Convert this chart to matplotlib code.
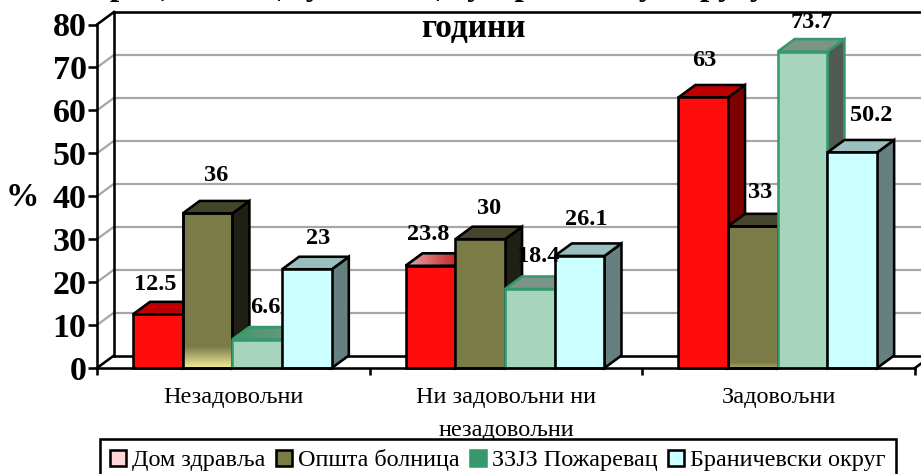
import matplotlib
matplotlib.use("Agg")
import matplotlib.pyplot as plt
import numpy as np
from matplotlib.patches import Patch, Polygon, Rectangle
from matplotlib.transforms import IdentityTransform

categories = ["Незадовољни", "Ни задовољни ни\nнезадовољни", "Задовољни"]
series_names = ["Дом здравља", "Општа болница", "ЗЗЈЗ Пожаревац", "Браничевски округ"]

dom_zdravlja = [12.5, 23.8, 63]
opsta_bolnica = [36, 30, 33]
zzjz = [6.6, 18.4, 73.7]
okrug = [23, 26.1, 50.2]

yticks = [0, 10, 20, 30, 40, 50, 60, 70, 80]

# first title line is cut off in the source image, wording is a guess from the descenders
title_top = "Процена лица у болници у Браничеву округу"
title_bottom = "години"

# label offset from top centre of each bar, in pixels
label_dx = [[-3, 9, 8, 11], [-2, 9, 8, 7], [1, 7, 9, 19]]
label_dy = [[30, 38, 32, 31], [31, 31, 32, 36], [37, 34, 29, 37]]
masked_labels = ["6.6", "18.4"]

# front, side, top, edge
colors = [
    ("#FF0D0D", "#7F0000", "#BF0000", "black"),
    ("#7B7B47", "#1F1F14", "#45452B", "black"),
    ("#A6D4BC", "#4E5A52", "#7A9485", "#36996B"),
    ("#CCFFFF", "#667F7F", "#99BFBF", "black"),
]
legend_colors = [("#FFD5D5", "black"), ("#7B7B47", "black"), ("#36996B", "#36996B"), ("#CCFFFF", "black")]

plt.rcParams["font.family"] = "Liberation Serif"

fig = plt.figure(figsize=(9.21, 4.74), dpi=100)
ax = fig.add_axes([97 / 921, (474 - 368) / 474, 818 / 921, 343.5 / 474])
ax.set_xlim(0, 3)
ax.set_ylim(0, 80)

depth_x = 0.0623
depth_y = 2.91
bar_w = 0.1823
bar_start = 0.132
lw = 1.85
grid_lw = 1.6

zcount = 2


def next_z():
    global zcount
    zcount += 1
    return zcount


def add_poly(pts, face, edge):
    p = Polygon(pts, closed=True, facecolor=face, edgecolor=edge, linewidth=lw,
                joinstyle="miter", clip_on=False, zorder=next_z())
    ax.add_patch(p)
    return p


def add_gradient(pts, rgb, a0, a1, horizontal=False, edge=None):
    # colour fading over a face, clipped to that face
    xs = [p[0] for p in pts]
    ys = [p[1] for p in pts]
    alpha = np.linspace(a0, a1, 32)
    if horizontal:
        img = np.zeros((1, 32, 4))
        img[0, :, :3] = matplotlib.colors.to_rgb(rgb)
        img[0, :, 3] = alpha
    else:
        img = np.zeros((32, 1, 4))
        img[:, 0, :3] = matplotlib.colors.to_rgb(rgb)
        img[:, 0, 3] = alpha
    im = ax.imshow(img, extent=[min(xs), max(xs), min(ys), max(ys)], origin="lower",
                   aspect="auto", zorder=next_z(), interpolation="bilinear")
    clip = Polygon(pts, closed=True, transform=ax.transData)
    im.set_clip_path(clip)
    if edge is not None:
        ax.add_patch(Polygon(pts, closed=True, facecolor="none", edgecolor=edge, linewidth=lw,
                             joinstyle="miter", clip_on=False, zorder=next_z()))


# walls
wall = dict(clip_on=False, solid_capstyle="projecting", zorder=1)
for v in yticks[1:-1]:
    ax.plot([0, depth_x], [v, v + depth_y], color="#A6A6A6", lw=grid_lw, **wall)
    ax.plot([depth_x, 3 + depth_x], [v + depth_y, v + depth_y], color="#A6A6A6", lw=grid_lw, **wall)
ax.plot([0, depth_x], [80, 80 + depth_y], color="black", lw=lw, **wall)
ax.plot([depth_x, 3 + depth_x], [80 + depth_y, 80 + depth_y], color="black", lw=lw, **wall)
ax.plot([depth_x, depth_x], [depth_y, 80 + depth_y], color="black", lw=lw, **wall)
ax.plot([depth_x, 3 + depth_x], [depth_y, depth_y], color="black", lw=lw, **wall)
for x in [0, 3]:
    ax.plot([x, x + depth_x], [0, depth_y], color="black", lw=lw, **wall)

all_series = [dom_zdravlja, opsta_bolnica, zzjz, okrug]
labels = []
for g in range(3):
    for s, vals in enumerate(all_series):
        v = vals[g]
        x0 = g + bar_start + s * bar_w
        x1 = x0 + bar_w
        front, side, top, edge = colors[s]
        side_pts = [(x1, 0), (x1 + depth_x, depth_y), (x1 + depth_x, v + depth_y), (x1, v)]
        top_pts = [(x0, v), (x0 + depth_x, v + depth_y), (x1 + depth_x, v + depth_y), (x1, v)]
        front_pts = [(x0, 0), (x1, 0), (x1, v), (x0, v)]
        add_poly(side_pts, side, edge)
        add_poly(top_pts, top, edge)
        add_poly(front_pts, front, edge)
        if s == 1 and g == 0:
            add_gradient([(x0, 0), (x1, 0), (x1, 5), (x0, 5)], "#F2EC9A", 1, 0)
            add_poly(front_pts, "none", edge)
        if s == 1 and g == 2:
            add_gradient([(x0, 0), (x1, 0), (x1, 1.2), (x0, 1.2)], "#D8D080", 0.5, 0)
            add_poly(front_pts, "none", edge)
        if s == 0 and g == 1:
            add_gradient(top_pts, "#F0D0D0", 0.8, 0, horizontal=True, edge=edge)
        if s == 2 and g == 0:
            add_gradient(top_pts, "#36996B", 0.9, 0, horizontal=True, edge=edge)
        labels.append(ax.annotate(f"{v:g}", (x0 + bar_w / 2, v),
                                  xytext=(label_dx[g][s], label_dy[g][s]), textcoords="offset pixels",
                                  ha="center", va="center", fontsize=17.5, fontweight="bold",
                                  annotation_clip=False, zorder=100))

ax.spines["top"].set_visible(False)
ax.spines["right"].set_visible(False)
ax.spines["left"].set_linewidth(lw)
ax.spines["bottom"].set_linewidth(lw)
ax.spines["left"].set_zorder(90)
ax.spines["bottom"].set_zorder(90)
ax.patch.set_visible(False)

ax.set_yticks(yticks)
ax.tick_params(axis="y", length=6.5, width=lw, pad=1, labelsize=24.5)
for t in ax.get_yticklabels():
    t.set_fontweight("bold")

ax.set_xticks([0, 1, 2, 3])
ax.set_xticklabels(["", "", "", ""])
ax.tick_params(axis="x", which="major", length=5, width=lw)
ax.set_xticks([0.5, 1.5, 2.5], minor=True)
ax.set_xticklabels(categories, minor=True, fontsize=17.5, linespacing=1.75)
ax.tick_params(axis="x", which="minor", length=0, pad=13.5)

ax.set_ylabel("%", rotation=0, fontsize=24, fontweight="bold", ha="center", va="center")
ax.yaxis.set_label_coords((22 - 97) / 818, (368 - 197) / 343.5)

fig.text(84 / 921, 1 + 5.5 / 474, title_top, ha="left", va="baseline", fontsize=24, fontweight="bold")
fig.text(473 / 921, 1 - 37 / 474, title_bottom, ha="center", va="baseline", fontsize=24, fontweight="bold")

handles = [Patch(facecolor=f, edgecolor=e, linewidth=lw) for f, e in legend_colors]
leg = ax.legend(handles, series_names, ncol=4, loc="upper left", bbox_to_anchor=(100 / 921, 1 - 439 / 474),
                bbox_transform=fig.transFigure, borderaxespad=0, fancybox=False, framealpha=1,
                edgecolor="black", fontsize=17.4, handlelength=0.66, handleheight=0.66,
                handletextpad=0.25, columnspacing=0.43, borderpad=0.42, labelspacing=0)
leg.get_frame().set_linewidth(lw)

# labels that wipe the grid line behind them
renderer = fig.canvas.get_renderer()
for t in labels:
    if t.get_text() in masked_labels:
        box = t.get_window_extent(renderer)
        ax.add_patch(Rectangle((box.x0, box.y0 - 5), box.width, box.height + 5, facecolor="white",
                               edgecolor="none", transform=IdentityTransform(), clip_on=False, zorder=2))

ax.set_xlim(0, 3)
ax.set_ylim(0, 80)

fig.savefig("out.png", dpi=100)
